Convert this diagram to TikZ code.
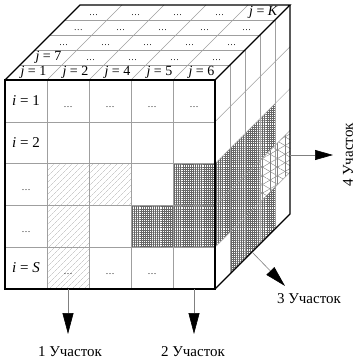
\documentclass[tikz,border=0pt]{standalone}
\usepackage{fontspec}
\setmainfont{Liberation Serif}
\usetikzlibrary{patterns.meta,arrows.meta}
\begin{document}
\begin{tikzpicture}[x=1pt,y=-1pt,
  outline/.style={line width=1.3pt,line join=miter},
  gridline/.style={draw=gray!75,line width=0.5pt},
  hatchA/.style={pattern={Lines[angle=45,distance=4pt,line width=0.4pt]},pattern color=gray!60},
  hatchB/.style={pattern={Hatch[angle=0,distance=2.1pt,line width=0.3pt]},pattern color=black!60},
  triA/.style={pattern={Lines[angle=90,distance=7.5pt,line width=0.4pt]},pattern color=gray},
  triB/.style={pattern={Lines[angle=30,distance=7.5pt,line width=0.4pt]},pattern color=gray},
  triC/.style={pattern={Lines[angle=-30,distance=7.5pt,line width=0.4pt]},pattern color=gray},
  lbl/.style={font=\fontsize{15}{15}\selectfont,inner sep=0pt},
  toplbl/.style={font=\fontsize{14}{14}\selectfont,inner sep=0pt},
  dotsn/.style={font=\fontsize{9}{9}\selectfont,inner sep=0pt,anchor=base},
  arr/.style={draw=gray,line width=0.6pt,-{Triangle[length=21pt,width=11pt,color=black]}},
]
\useasboundingbox (0,0) rectangle (355,362);
% ---- front face fills
\fill[hatchA] (47,163.6) rectangle (89,289);
\fill[hatchA] (89,163.6) rectangle (131,205.4);
\fill[hatchB] (173,163.6) rectangle (215,205.4);
\fill[hatchB] (131,205.4) rectangle (215,247.2);
% ---- right face fills  (d,fy) -> (215+15d, fy-15d)
\fill[hatchB] (215,163.6) -- ({215+60},{163.6-60}) -- ({215+60},{205.4-60}) -- ({215+45},{205.4-45})
   -- ({215+45},{247.2-45}) -- (215,247.2) -- cycle;
\fill[hatchB] ({215+15},{247.2-15}) -- ({215+60},{247.2-60}) -- ({215+60},{289-60}) -- ({215+15},{289-15}) -- cycle;
\foreach \s in {triA,triB,triC}{
  \fill[\s] ({215+45},{205.4-45}) -- ({215+75},{205.4-75}) -- ({215+75},{247.2-75}) -- ({215+45},{247.2-45}) -- cycle;
}
% ---- front grid
\foreach \x in {47,89,131,173}{ \draw[gridline] (\x,80) -- (\x,289); }
\foreach \y in {121.8,163.6,205.4,247.2}{ \draw[gridline] (5,\y) -- (215,\y); }
% ---- top grid
\foreach \y in {65,50,35,20}{ \draw[gridline] ({85-\y},\y) -- ({295-\y},\y); }
\foreach \x in {47,89,131,173}{ \draw[gridline] (\x,80) -- ({\x+75},5); }
% ---- right grid
\foreach \d in {1,2,3,4}{ \draw[gridline] ({215+15*\d},{80-15*\d}) -- ({215+15*\d},{289-15*\d}); }
\foreach \y in {121.8,163.6,205.4,247.2}{ \draw[gridline] (215,\y) -- (290,{\y-75}); }
% ---- outline
\draw[outline] (5,80) rectangle (215,289);
\draw[outline] (5,80) -- (80,5) -- (290,5) -- (215,80);
\draw[outline] (290,5) -- (290,214) -- (215,289);
% ---- front labels
\node[lbl] (i1) at (26,101) {\textit{i} = 1};
\node[lbl] (i2) at (26,142.7) {\textit{i} = 2};
\node[lbl] (iS) at (26,268.1) {\textit{i} = \textit{S}};
\node[dotsn] (d12) at (68,107) {\ldots};
\node[dotsn] (d13) at (110,107) {\ldots};
\node[dotsn] (d14) at (152,107) {\ldots};
\node[dotsn] (d15) at (194,107) {\ldots};
\node[dotsn] (d31) at (26,190.5) {\ldots};
\node[dotsn] (d41) at (26,232.3) {\ldots};
\node[dotsn] (d52) at (68,274.1) {\ldots};
\node[dotsn] (d53) at (110,274.1) {\ldots};
\node[dotsn] (d54) at (152,274.1) {\ldots};
% ---- top labels (row k: mid y = 80-15(k-0.5); x = 26+42(c-1)+15(k-0.5))
\node[toplbl] (j1) at (33.5,72.5) {\textit{j} = 1};
\node[toplbl] (j2) at (75.5,72.5) {\textit{j} = 2};
\node[toplbl] (j4) at (117.5,72.5) {\textit{j} = 4};
\node[toplbl] (j5) at (159.5,72.5) {\textit{j} = 5};
\node[toplbl] (j6) at (201.5,72.5) {\textit{j} = 6};
\node[toplbl] (j7) at (48.5,57.5) {\textit{j} = 7};
\foreach \c in {2,3,4,5}{ \node[dotsn] (t2\c) at ({26+42*(\c-1)+22.5},60.5) {\ldots}; }
\foreach \c in {1,2,3,4,5}{ \node[dotsn] (t3\c) at ({26+42*(\c-1)+37.5},45.5) {\ldots}; }
\foreach \c in {1,2,3,4,5}{ \node[dotsn] (t4\c) at ({26+42*(\c-1)+52.5},30.5) {\ldots}; }
\foreach \c in {1,2,3,4}{ \node[dotsn] (t5\c) at ({26+42*(\c-1)+67.5},15.5) {\ldots}; }
\node[toplbl] (jK) at (263.5,12.5) {\textit{j} = \textit{K}};
% ---- arrows
\coordinate (a1s) at (68,289);  \coordinate (a1e) at (68,334);
\coordinate (a2s) at (194,289); \coordinate (a2e) at (194,334);
\coordinate (a3s) at (252,252); \coordinate (a3e) at (285,286);
\coordinate (a4s) at (290,155); \coordinate (a4e) at (333,155);
\draw[arr] (a1s) -- (a1e);
\draw[arr] (a2s) -- (a2e);
\draw[arr] (a3s) -- (a3e);
\draw[arr,-{Triangle[length=18pt,width=10pt,color=black]}] (a4s) -- (a4e);
\node[lbl] (l1) at (70,352) {1 Участок};
\node[lbl] (l2) at (193,352) {2 Участок};
\node[lbl] (l3) at (309,299) {3 Участок};
\node[lbl,rotate=90] (l4) at (348,155) {4 Участок};
\end{tikzpicture}
\end{document}
